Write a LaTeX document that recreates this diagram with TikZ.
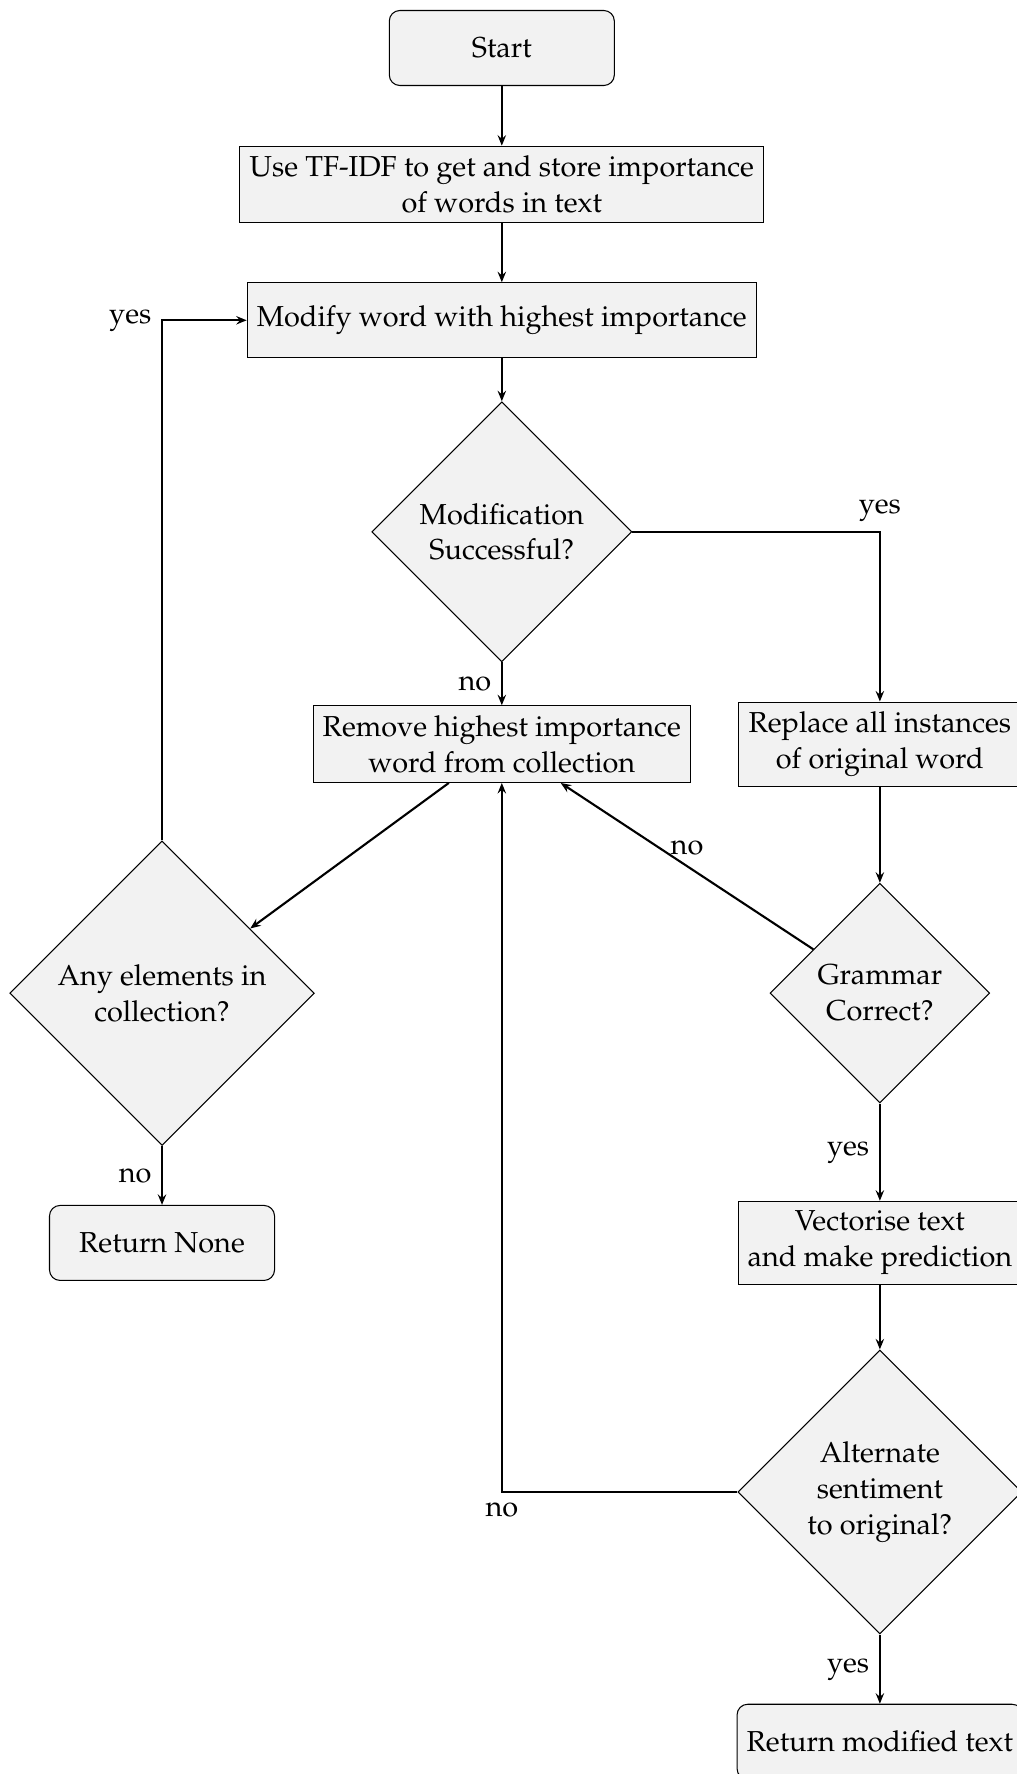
\documentclass[tikz,border=0pt,11pt]{standalone}
\IfFileExists{mathpazo.sty}{\usepackage[T1]{fontenc}\usepackage{mathpazo}}{\usepackage{fontspec}\setmainfont{Liberation Serif}}
\usetikzlibrary{shapes.geometric, arrows.meta}

\begin{document}
\begin{tikzpicture}
	\tikzset{startstop/.style={draw, rectangle, rounded corners, fill=black!5, minimum width=3cm, minimum height=1cm, align=center}}
	\tikzset{process/.style={draw, rectangle, fill=black!5, minimum width=3cm, minimum height=1cm, align=center}}
	\tikzset{decision/.style={draw, diamond, aspect=1, fill=black!5, align=center}}
	\tikzset{arrow/.style={draw, thick, -{Stealth[length=4pt, width=3.2pt, inset=1.4pt]}}}

	\useasboundingbox (-6.69, 0.64) rectangle (6.86, -23.01);

	\node[startstop] (start) at (0, 0) {Start};
	\node[process] (tfidf) at (0, -1.82) {Use TF-IDF to get and store importance\\of words in text};
	\node[process] (modify) at (0, -3.63) {Modify word with highest importance};
	\node[decision] (modok) at (0, -6.45) {Modification\\Successful?};
	\node[process] (remove) at (0, -9.28) {Remove highest importance\\word from collection};
	\node[process] (replace) at (5.04, -9.28) {Replace all instances\\of original word};
	\node[decision] (anyel) at (-4.53, -12.6) {Any elements in\\collection?};
	\node[decision] (grammar) at (5.04, -12.6) {Grammar\\Correct?};
	\node[startstop] (retnone) at (-4.53, -15.93) {Return None};
	\node[process] (vectorise) at (5.04, -15.93) {Vectorise text\\and make prediction};
	\node[decision] (alternate) at (5.04, -19.25) {Alternate\\sentiment\\to original?};
	\node[startstop] (retmod) at (5.04, -22.58) {Return modified text};

	\draw[arrow] (start) -- (tfidf);
	\draw[arrow] (tfidf) -- (modify);
	\draw[arrow] (modify) -- (modok);
	\draw[arrow] (modok) -- node[left] {no} (remove);
	\draw[arrow] (modok) -| node[pos=0.5, above] {yes} (replace);

	\draw[arrow] (replace) -- (grammar);
	\draw[arrow] (grammar) -- node[above] {no} (remove);
	\draw[arrow] (grammar) -- node[left] {yes} (vectorise);
	\draw[arrow] (vectorise) -- (alternate);
	\draw[arrow] (alternate) -- node[left] {yes} (retmod);
	\draw[arrow] (alternate) -| node[pos=0.5, below] {no} (remove);

	\draw[arrow] (remove) -- (anyel);
	\draw[arrow] (anyel) -- node[left] {no} (retnone);
	\draw[arrow] (anyel) |- node[pos=0.5, left] {yes} (modify);
\end{tikzpicture}
\end{document}
